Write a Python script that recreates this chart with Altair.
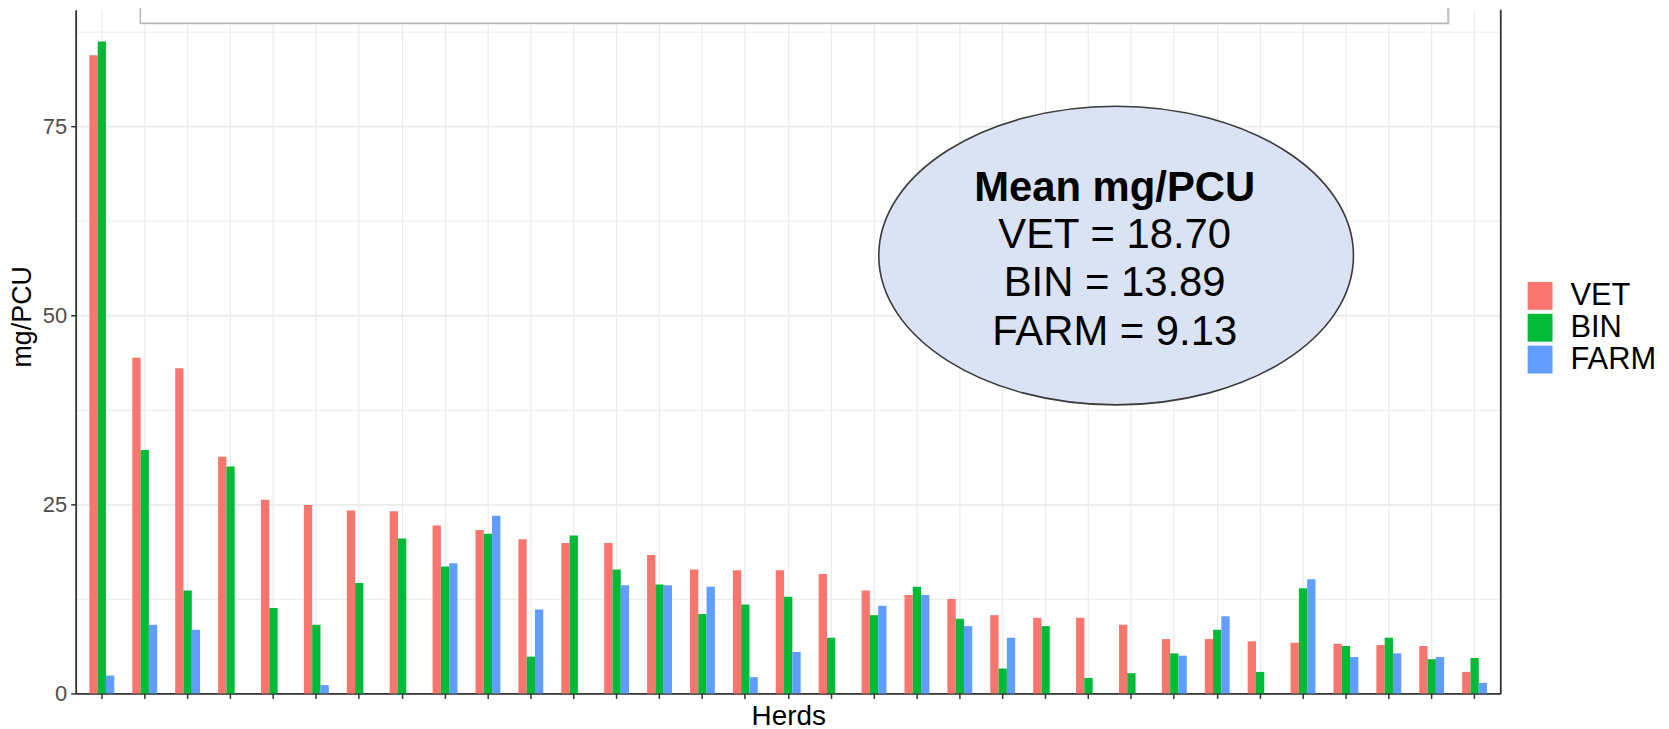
import altair as alt
import pandas as pd

# ---- data ----
herds = ["H01", "H02", "H03", "H04", "H05", "H06", "H07", "H08", "H09", "H10", "H11",
         "H12", "H13", "H14", "H15", "H16", "H17", "H18", "H19", "H20", "H21", "H22",
         "H23", "H24", "H25", "H26", "H27", "H28", "H29", "H30", "H31", "H32", "H33"]
vet = [84.4, 44.4, 43.0, 31.3, 25.6, 24.9, 24.2, 24.1, 22.2, 21.6, 20.4,
       19.9, 19.9, 18.3, 16.4, 16.3, 16.3, 15.8, 13.6, 13.0, 12.5, 10.35,
       10.0, 10.0, 9.08, 7.19, 7.19, 6.89, 6.7, 6.58, 6.4, 6.27, 2.85]
bin_ = [86.2, 32.2, 13.6, 30.0, 11.3, 9.08, 14.6, 20.5, 16.8, 21.1, 4.87,
        20.9, 16.4, 14.4, 10.5, 11.75, 12.8, 7.37, 10.35, 14.1, 9.87, 3.3,
        8.9, 2.06, 2.68, 5.3, 8.42, 2.85, 13.9, 6.27, 7.37, 4.52, 4.69]
farm = [2.37, 9.08, 8.42, None, None, 1.1, None, None, 17.2, 23.5, 11.1,
        None, 14.3, 14.3, 14.1, 2.15, 5.48, None, 11.6, 13.0, 8.9, 7.37,
        None, None, None, 5.0, 10.2, None, 15.1, 4.82, 5.3, 4.82, 1.4]
sources = ["VET", "BIN", "FARM"]
colors = ["#F8766D", "#00BA38", "#619CFF"]
y_values = [0, 12.5, 25, 37.5, 50, 62.5, 75, 87.5]
mean_title = "Mean mg/PCU"
mean_lines = ["VET = 18.70", "BIN = 13.89", "FARM = 9.13"]

rows = []
for src, series in zip(sources, [vet, bin_, farm]):
    for h, v in zip(herds, series):
        if v is not None:
            rows.append({"herd": h, "source": src, "value": v})
df = pd.DataFrame(rows)

FONT = "Liberation Sans"
W, H = 1432, 687

bars = alt.Chart(df).mark_bar().encode(
    x=alt.X("herd:N", sort=herds,
            scale=alt.Scale(paddingInner=0.42, paddingOuter=0.32),
            axis=alt.Axis(labels=False, title="Herds", bandPosition=0.5,
                          grid=True, gridColor="#EBEBEB", gridWidth=1.2,
                          ticks=True, tickSize=5, tickColor="#333333", tickWidth=1.5,
                          domainColor="#333333", domainWidth=1.8,
                          titleFont=FONT, titleFontSize=28, titleFontWeight="normal",
                          titleColor="black", titleY=31, titleBaseline="alphabetic")),
    xOffset=alt.XOffset("source:N", sort=sources,
                        scale=alt.Scale(domain=sources, paddingInner=0, paddingOuter=0)),
    y=alt.Y("value:Q",
            scale=alt.Scale(domain=[0, 90.4], nice=False, zero=True),
            axis=alt.Axis(values=y_values, title="mg/PCU",
                          labelExpr="datum.value % 25 == 0 ? format(datum.value, 'd') : ''",
                          labelFont=FONT, labelFontSize=22, labelColor="#4D4D4D",
                          labelPadding=4,
                          tickSize=5, tickColor="#333333", tickWidth=1.5,
                          tickOpacity={"condition": {"test": "datum.value % 25 != 0", "value": 0}, "value": 1},
                          grid=True, gridColor="#EBEBEB",
                          gridWidth={"condition": {"test": "datum.value % 25 != 0", "value": 1.0}, "value": 1.8},
                          domainColor="#333333", domainWidth=1.8,
                          titleFont=FONT, titleFontSize=27, titleFontWeight="normal",
                          titleColor="black", titleAngle=270, titleX=-53, titleY=308,
                          titleAlign="center", titleBaseline="middle")),
    color=alt.Color("source:N", sort=sources,
                    scale=alt.Scale(domain=sources, range=colors),
                    legend=alt.Legend(orient="none", legendX=1456, legendY=272, title=None,
                                      symbolType="M-0.893,-1H0.893V1H-0.893Z",
                                      symbolSize=784, symbolStrokeWidth=0,
                                      labelFont=FONT, labelFontSize=31, labelColor="black",
                                      labelOffset=15, rowPadding=0, padding=0, offset=0,
                                      labelBaseline="middle")),
)

one = pd.DataFrame({"k": [0]})

right_border = alt.Chart(one).mark_rule(color="#333333", strokeWidth=1.8).encode(
    x=alt.value(W), y=alt.value(0), y2=alt.value(H)
)

title_shadow = alt.Chart(one).mark_rect(fill="#E6E6E6").encode(
    x=alt.value(66), x2=alt.value(1381), y=alt.value(-10), y2=alt.value(15)
)

title_box = alt.Chart(one).mark_rect(fill="white", stroke="#B5B5B5", strokeWidth=1.5).encode(
    x=alt.value(65), x2=alt.value(1379), y=alt.value(-10), y2=alt.value(13.5)
)

ellipse = alt.Chart(one).mark_point(
    shape="M-1,0A1,0.629,0,1,0,1,0A1,0.629,0,1,0,-1,0Z",
    size=227529, filled=True, fill="#DAE3F3", stroke="#3A3A3A",
    strokeWidth=1.6, opacity=1, fillOpacity=1,
).encode(x=alt.value(1045.5), y=alt.value(247))

mean_head = alt.Chart(one).mark_text(
    font=FONT, fontSize=42, fontWeight="bold", color="black",
    align="center", baseline="alphabetic",
).encode(x=alt.value(1044), y=alt.value(192), text=alt.value(mean_title))

mean_body = alt.Chart(one).mark_text(
    font=FONT, fontSize=42, color="black", align="center",
    baseline="alphabetic", lineHeight=49,
).encode(x=alt.value(1044), y=alt.value(239), text=alt.value(mean_lines))

chart = alt.layer(bars, right_border, title_shadow, title_box, ellipse, mean_head, mean_body).properties(
    width=W, height=H,
    padding={"left": 68, "top": 0, "right": 161, "bottom": 40},
    autosize=alt.AutoSizeParams(type="none"),
    background="white",
).configure_view(stroke=None)

chart.save("out.html", embed_options={"renderer": "svg", "actions": False})
